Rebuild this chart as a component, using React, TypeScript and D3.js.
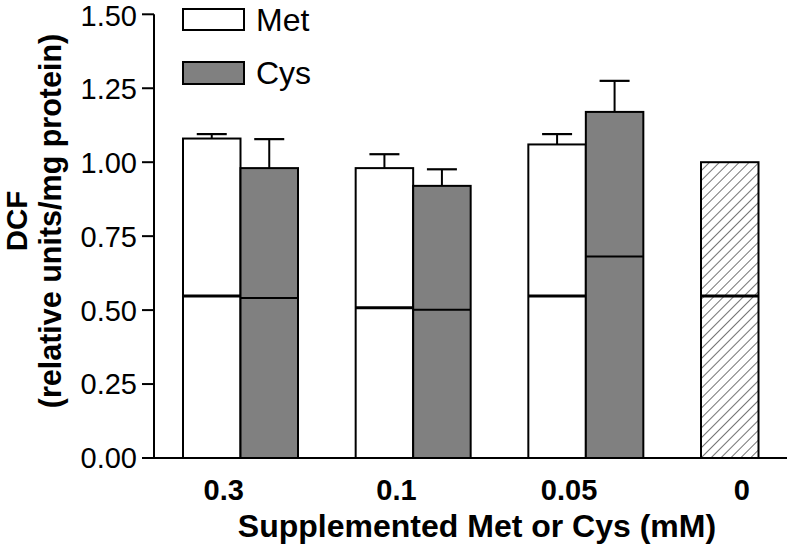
import React from "react";
import * as d3 from "d3";

const categories = ["0.3", "0.1", "0.05", "0"];
const series = ["Met", "Cys"];
const metValues = [1.08, 0.98, 1.06];
const metErrors = [0.015, 0.047, 0.035];
const metInner = [0.548, 0.508, 0.548];
const cysValues = [0.98, 0.92, 1.17];
const cysErrors = [0.098, 0.056, 0.105];
const cysInner = [0.541, 0.501, 0.681];
const controlValue = 1.0;
const controlInner = 0.548;
const yTicks = [0, 0.25, 0.5, 0.75, 1.0, 1.25, 1.5];

const W = 791;
const H = 546;
const FONT = "Liberation Sans, Arial, Helvetica, sans-serif";

export default function App() {
  const y = d3.scaleLinear().domain([0, 1.5]).range([458, 14.3]);
  const x = d3.scaleBand().domain(categories).range([183, 816]).paddingInner(0.334).paddingOuter(0);
  const xs = d3.scaleBand().domain(series).range([0, x.bandwidth()]);
  const bw = xs.bandwidth();
  const axisX = 154;
  const fmt = d3.format(".2f");

  const groups = categories.slice(0, 3).map((c, i) => ({
    c,
    bars: [
      { s: "Met", v: metValues[i], e: metErrors[i], inner: metInner[i], fill: "#ffffff", innerW: 3 },
      { s: "Cys", v: cysValues[i], e: cysErrors[i], inner: cysInner[i], fill: "#808080", innerW: 2 },
    ],
  }));

  const ctrlX = x("0")!;

  return (
    <div style={{ position: "absolute", left: 0, top: 0 }}>
      <svg width={W} height={H} style={{ display: "block" }} fontFamily={FONT}>
        <defs>
          <pattern id="hatch" patternUnits="userSpaceOnUse" width="7" height="7" patternTransform="rotate(45)">
            <rect width="7" height="7" fill="#ffffff" />
            <line x1="0" y1="0" x2="0" y2="7" stroke="#000" strokeWidth="1.1" />
          </pattern>
        </defs>
        <rect width={W} height={H} fill="#fff" />

        {groups.map((g) => (
          <g key={g.c}>
            {g.bars.map((b) => {
              const bx = x(g.c)! + xs(b.s)!;
              const cx = bx + bw / 2;
              return (
                <g key={b.s}>
                  <line x1={cx} x2={cx} y1={y(b.v)} y2={y(b.v + b.e)} stroke="#000" strokeWidth={2} />
                  <line x1={cx - 15} x2={cx + 15} y1={y(b.v + b.e)} y2={y(b.v + b.e)} stroke="#000" strokeWidth={2.2} />
                  <rect x={bx} y={y(b.v)} width={bw} height={y(0) - y(b.v)} fill={b.fill} stroke="#000" strokeWidth={2} />
                  <line x1={bx} x2={bx + bw} y1={y(b.inner)} y2={y(b.inner)} stroke="#000" strokeWidth={b.innerW} />
                </g>
              );
            })}
          </g>
        ))}

        <rect x={ctrlX} y={y(controlValue)} width={bw} height={y(0) - y(controlValue)} fill="url(#hatch)" stroke="#000" strokeWidth={2} />
        <line x1={ctrlX} x2={ctrlX + bw} y1={y(controlInner)} y2={y(controlInner)} stroke="#000" strokeWidth={3} />

        {/* axes */}
        <line x1={axisX} x2={axisX} y1={y(1.5)} y2={y(0)} stroke="#000" strokeWidth={2} />
        <line x1={axisX - 1} x2={787} y1={y(0)} y2={y(0)} stroke="#000" strokeWidth={2} />
        {yTicks.map((t) => (
          <g key={t}>
            <line x1={axisX - 12} x2={axisX} y1={y(t)} y2={y(t)} stroke="#000" strokeWidth={2} />
            <text x={axisX - 17} y={y(t)} dy={t === 1.5 ? "0.4em" : "0.36em"} textAnchor="end" fontSize={29} fill="#000">
              {fmt(t)}
            </text>
          </g>
        ))}

        {categories.map((c) => (
          <text key={c} x={x(c)! + bw / 2 + 12} y={500} textAnchor="middle" fontSize={29} fontWeight="bold" fill="#000">
            {c}
          </text>
        ))}
        <text x={477} y={537} textAnchor="middle" fontSize={32} fontWeight="bold" fill="#000">
          Supplemented Met or Cys (mM)
        </text>

        <g transform="translate(27,221) rotate(-90)">
          <text x={0} y={0} textAnchor="middle" fontSize={29.5} fontWeight="bold" fill="#000">DCF</text>
        </g>
        <g transform="translate(61,221) rotate(-90)">
          <text x={0} y={0} textAnchor="middle" fontSize={30.5} fontWeight="bold" fill="#000">(relative units/mg protein)</text>
        </g>

        {/* legend */}
        <rect x={183} y={9} width={61} height={21} fill="#fff" stroke="#000" strokeWidth={2} />
        <text x={256} y={31} fontSize={32} fill="#000">Met</text>
        <rect x={183} y={62} width={61} height={22} fill="#808080" stroke="#000" strokeWidth={2} />
        <text x={256} y={84} fontSize={32} fill="#000">Cys</text>
      </svg>
    </div>
  );
}
